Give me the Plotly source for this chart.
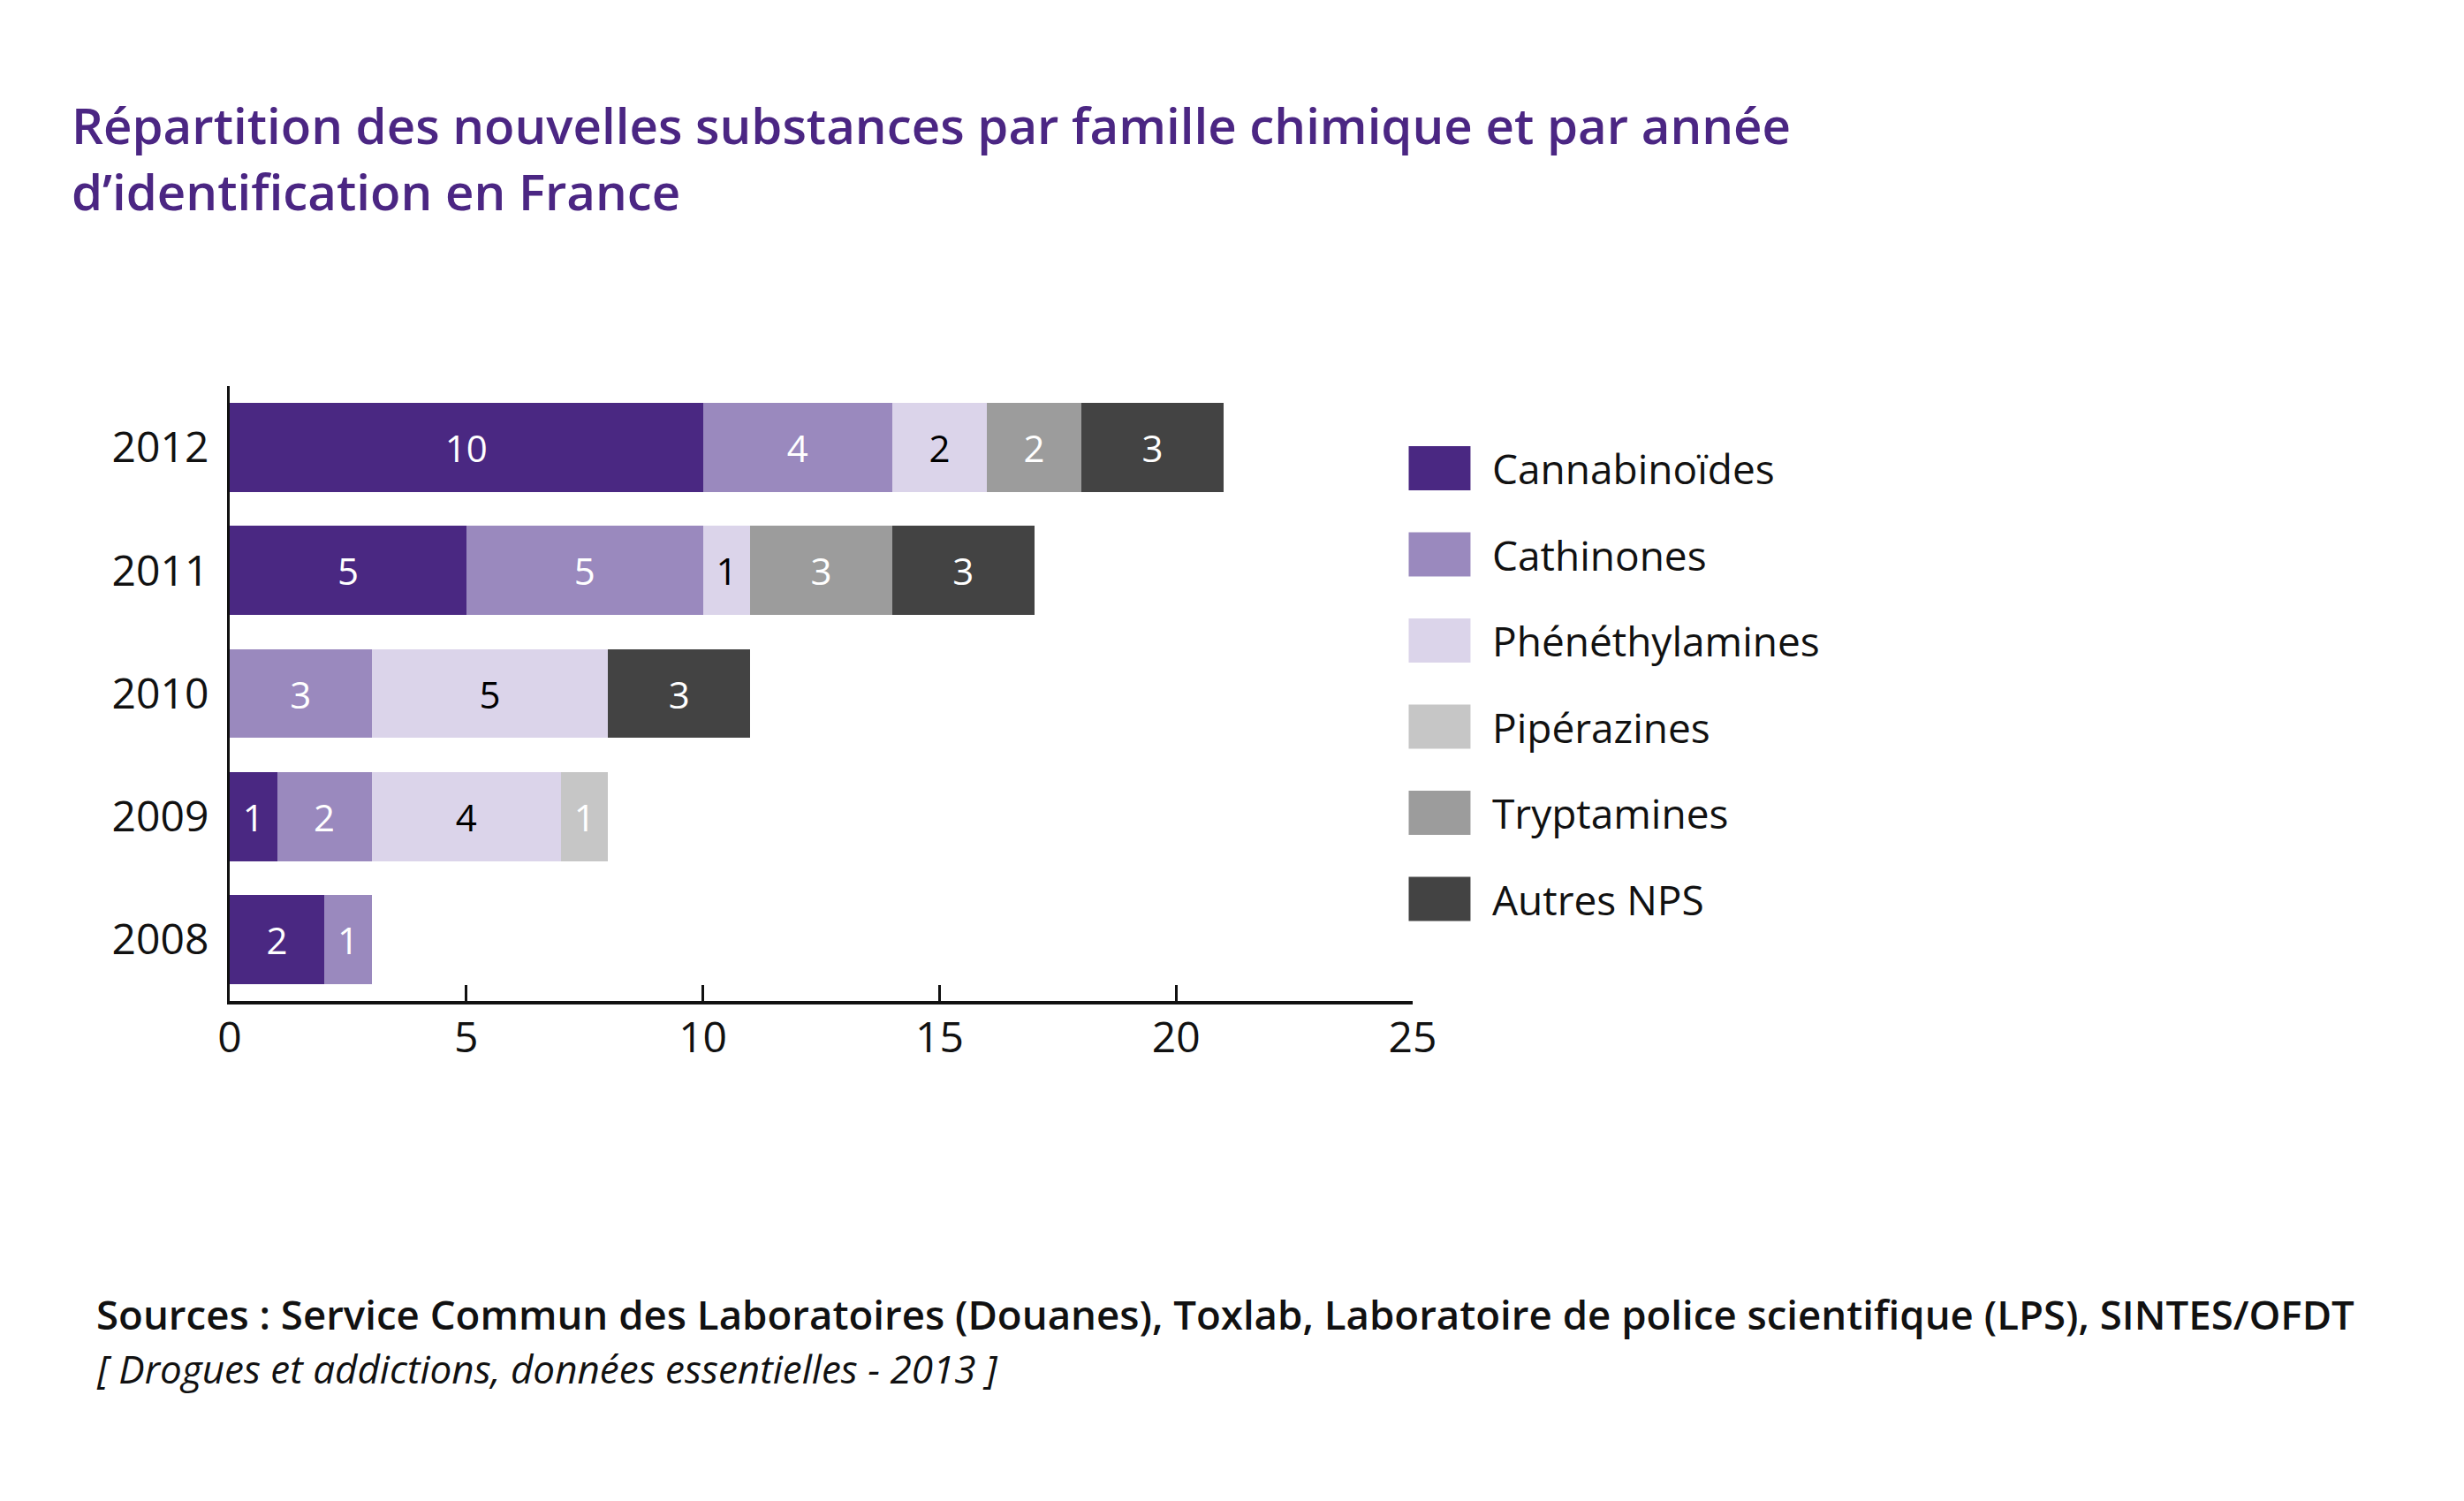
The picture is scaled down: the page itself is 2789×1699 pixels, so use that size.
import plotly.graph_objects as go

# data
years = ['2008', '2009', '2010', '2011', '2012']
families = ['Cannabinoïdes', 'Cathinones', 'Phénéthylamines',
            'Pipérazines', 'Tryptamines', 'Autres NPS']
cannabinoides = [2, 1, 0, 5, 10]
cathinones = [1, 2, 3, 5, 4]
phenethylamines = [0, 4, 5, 1, 2]
piperazines = [0, 1, 0, 0, 0]
tryptamines = [0, 0, 0, 3, 2]
autres_nps = [0, 0, 3, 3, 3]
series = [cannabinoides, cathinones, phenethylamines,
          piperazines, tryptamines, autres_nps]

colors = ['#4a2882', '#9a89be', '#dbd4ea', '#c6c6c6', '#9c9c9c', '#434343']
text_colors = ['white', 'white', 'black', 'white', 'white', 'white']

W, H = 2789, 1699
OFF = 8  # page body margin
L, R, T, B = 259.5, 1599.5, 437, 1133
FONT = 'Open Sans'
PURPLE = '#4b2683'


def px_x(px):
    return (px - L) / (R - L)


def px_y(py):
    return (B - py) / (B - T)


fig = go.Figure()

for name, vals, col, tcol in zip(families, series, colors, text_colors):
    fig.add_trace(go.Bar(
        y=years, x=vals, name=name, orientation='h',
        marker=dict(color=col, line=dict(width=0)),
        text=[str(v) if v else '' for v in vals],
        textposition='inside', insidetextanchor='middle',
        textangle=0,
        textfont=dict(family=FONT, size=42, color=tcol),
        showlegend=False,
    ))

# legend drawn as big swatches + labels
shapes = []
annotations = []
leg_top = 530
leg_step = 97.5
for i, (name, col) in enumerate(zip(families, colors)):
    cy = leg_top + i * leg_step
    shapes.append(dict(type='rect', xref='paper', yref='paper',
                       x0=px_x(1595), x1=px_x(1665),
                       y0=px_y(cy + 25), y1=px_y(cy - 25),
                       fillcolor=col, line=dict(width=0)))
    annotations.append(dict(xref='paper', yref='paper', x=px_x(1688), y=px_y(cy),
                            text=name, showarrow=False, xanchor='left', yanchor='middle',
                            font=dict(family=FONT, size=46, color='#111111')))

# title (two lines, placed separately for line spacing)
title_lines = ['Répartition des nouvelles substances par famille chimique et par année',
               'd’identification en France']
for i, line in enumerate(title_lines):
    annotations.append(dict(xref='paper', yref='paper', x=px_x(78), y=px_y(141 + i * 75),
                            text=line, showarrow=False, xanchor='left', yanchor='middle',
                            font=dict(family=FONT, size=56.4, color=PURPLE, weight=600)))

annotations.append(dict(xref='paper', yref='paper', x=px_x(106), y=px_y(1487),
                        text='Sources : Service Commun des Laboratoires (Douanes), Toxlab, '
                             'Laboratoire de police scientifique (LPS), SINTES/OFDT',
                        showarrow=False, xanchor='left', yanchor='middle',
                        font=dict(family=FONT, size=45.6, color='#111111', weight=600)))
annotations.append(dict(xref='paper', yref='paper', x=px_x(106), y=px_y(1549),
                        text='<i>[ Drogues et addictions, données essentielles - 2013 ]</i>',
                        showarrow=False, xanchor='left', yanchor='middle',
                        font=dict(family=FONT, size=44, color='#111111')))

fig.update_layout(
    width=W - OFF, height=H - OFF,
    margin=dict(l=L - OFF, r=W - R, t=T - OFF, b=H - B, pad=0),
    paper_bgcolor='white', plot_bgcolor='white',
    barmode='stack', bargap=0.275,
    shapes=shapes, annotations=annotations,
    xaxis=dict(range=[0, 25], tickvals=[0, 5, 10, 15, 20, 25],
               showgrid=False, zeroline=False,
               showline=True, linecolor='#111111', linewidth=4,
               ticks='inside', ticklen=18, tickwidth=3, tickcolor='#111111',
               ticklabelstandoff=-4,
               tickfont=dict(family=FONT, size=48, color='#111111')),
    yaxis=dict(range=[-0.5, 4.5], showgrid=False, zeroline=False,
               showline=True, linecolor='#111111', linewidth=3,
               ticks='', ticklabelstandoff=11,
               tickfont=dict(family=FONT, size=48, color='#111111')),
    uniformtext=dict(mode=False),
)

fig.write_html('out.html')
